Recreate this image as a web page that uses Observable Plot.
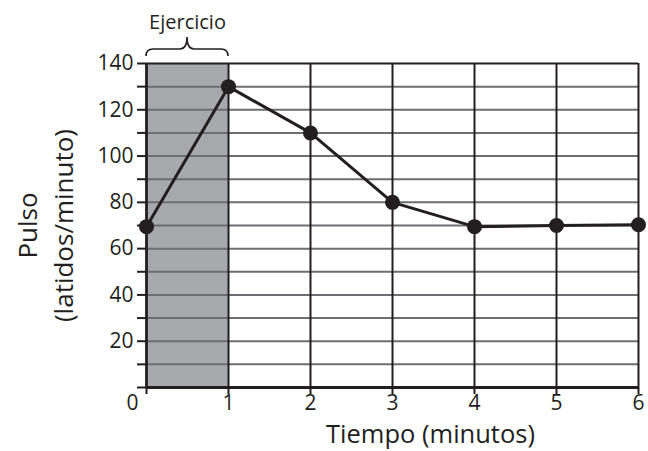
<!DOCTYPE html>
<html>
<head>
<meta charset="utf-8">
<script src="https://cdn.jsdelivr.net/npm/d3@7"></script>
<script src="https://cdn.jsdelivr.net/npm/@observablehq/plot@0.6"></script>
<style>
  html, body { margin: 0; padding: 0; background: #fff; }
</style>
</head>
<body>
<div id="chart"></div>
<script>
const minutes = [0, 1, 2, 3, 4, 5, 6];
const pulse = [69.5, 130, 110, 80, 69.5, 70, 70.3];
const yTicks = [0, 10, 20, 30, 40, 50, 60, 70, 80, 90, 100, 110, 120, 130, 140];
const yLabeled = [20, 40, 60, 80, 100, 120, 140];
const xTicks = [0, 1, 2, 3, 4, 5, 6];
const exerciseStart = 0, exerciseEnd = 1;
const exerciseLabel = "Ejercicio";
const xTitle = "Tiempo (minutos)";
const yTitle1 = "Pulso";
const yTitle2 = "(latidos/minuto)";

const data = minutes.map((m, i) => ({m, p: pulse[i]}));
const ink = "#231f20";
const font = "Open Sans";

const brace = (index, {x, y}) => {
  const x0 = x(exerciseStart), x1 = x(exerciseEnd), xm = (x0 + x1) / 2;
  const top = y(140);
  const yEnd = top - 7, yMid = top - 14, yPeak = top - 26;
  const d = `M${x0},${yEnd} Q${x0},${yMid} ${x0 + 7},${yMid} L${xm - 7},${yMid} Q${xm},${yMid} ${xm},${yPeak}` +
            ` Q${xm},${yMid} ${xm + 7},${yMid} L${x1 - 7},${yMid} Q${x1},${yMid} ${x1},${yEnd}`;
  return d3.create("svg:path").attr("d", d).attr("fill", "none")
    .attr("stroke", ink).attr("stroke-width", 1.6).node();
};

const chart = Plot.plot({
  width: 648,
  height: 451,
  marginLeft: 146,
  marginRight: 10,
  marginTop: 63,
  marginBottom: 64,
  style: {fontFamily: font, fontSize: "21px", color: ink, background: "#fff", overflow: "visible"},
  x: {domain: [0, 6], label: null},
  y: {domain: [0, 140], label: null},
  marks: [
    Plot.rect([0], {x1: exerciseStart, x2: exerciseEnd, y1: 0, y2: 140, fill: "#a7a9ac"}),
    Plot.ruleY(yTicks.filter(d => d > 0 && d < 140), {stroke: "#6d6e71", strokeWidth: 2}),
    Plot.ruleX(xTicks.filter(d => d > 0), {stroke: ink, strokeWidth: 2}),
    Plot.ruleY([140], {stroke: ink, strokeWidth: 2.2}),
    Plot.ruleX([0], {stroke: ink, strokeWidth: 2.8}),
    Plot.ruleY([0], {stroke: ink, strokeWidth: 2.8}),
    Plot.axisY({ticks: yTicks, tickSize: 9, tickPadding: 4, strokeWidth: 2, stroke: ink, label: null,
      tickFormat: d => yLabeled.includes(d) ? String(d) : "", fontSize: 21, fill: ink}),
    Plot.axisX({ticks: xTicks, tickSize: 7, tickPadding: 1, strokeWidth: 2, stroke: ink, label: null,
      tickFormat: d => d === 0 ? "" : String(d), fontSize: 21, fill: ink}),
    Plot.text([0], {x: 0, y: 0, text: () => "0", dx: -14, dy: 16, fontSize: 21, fill: ink}),
    Plot.line(data, {x: "m", y: "p", stroke: ink, strokeWidth: 3}),
    Plot.dot(data, {x: "m", y: "p", r: 7.5, fill: ink, stroke: "none"}),
    brace,
    Plot.text([0], {x: (exerciseStart + exerciseEnd) / 2, y: 140, text: () => exerciseLabel, dy: -41, fontSize: 20, fill: ink}),
    Plot.text([0], {frameAnchor: "bottom", textAnchor: "middle", lineAnchor: "middle", dx: 38, dy: 47, text: () => xTitle, fontSize: 25.5, fill: ink}),
    Plot.text([0], {frameAnchor: "left", textAnchor: "middle", lineAnchor: "middle", dx: -118, rotate: -90, text: () => yTitle1, fontSize: 26, fill: ink}),
    Plot.text([0], {frameAnchor: "left", textAnchor: "middle", lineAnchor: "middle", dx: -82, rotate: -90, text: () => yTitle2, fontSize: 26, fill: ink})
  ]
});
document.getElementById("chart").append(chart);
</script>
</body>
</html>
